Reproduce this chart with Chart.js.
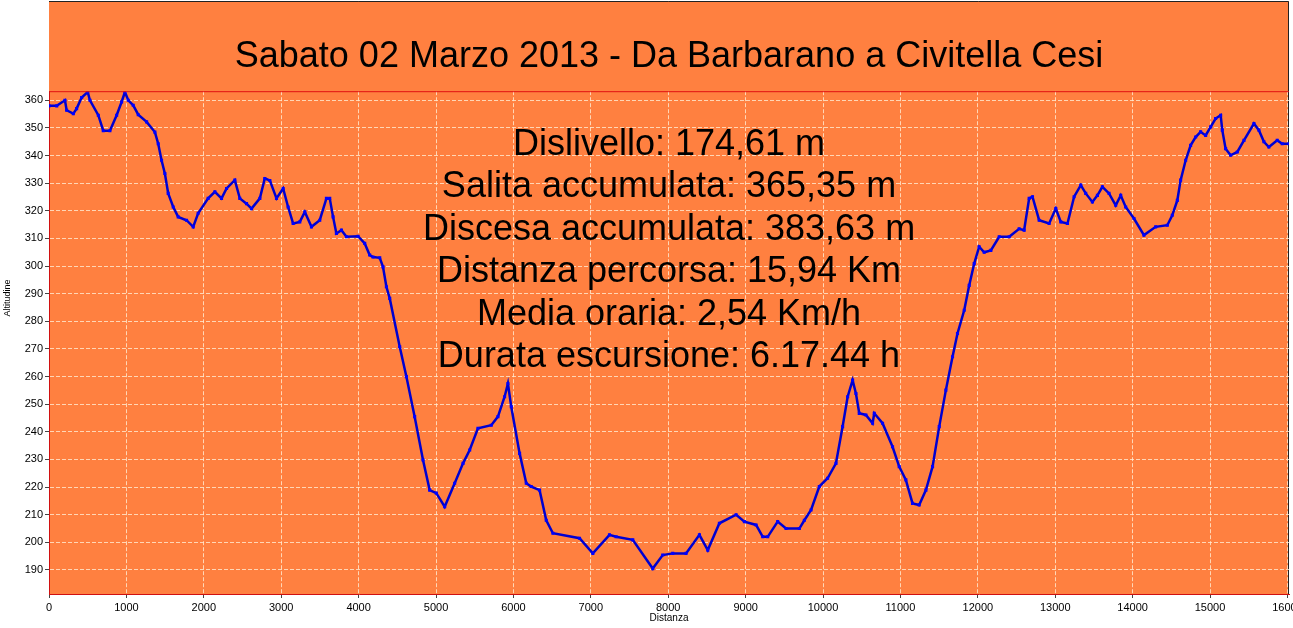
<!DOCTYPE html>
<html>
<head>
<meta charset="utf-8">
<title>Sabato 02 Marzo 2013 - Da Barbarano a Civitella Cesi</title>
<script src="https://cdn.jsdelivr.net/npm/chart.js@4.4.1/dist/chart.umd.min.js"></script>
<style>
  html, body { margin: 0; padding: 0; background: #fff; overflow: hidden; }
  canvas { display: block; }
</style>
</head>
<body>
<canvas id="chart" width="1293" height="628"></canvas>
<script>
const distanze = [0, 100, 206, 228, 314, 357, 422, 500, 529, 637, 701, 787, 874, 938, 981, 1024, 1088, 1153, 1261, 1368,
  1411, 1454, 1497, 1540, 1605, 1669, 1777, 1863, 1927, 2056, 2143, 2229, 2294, 2401, 2465, 2552, 2617, 2724, 2788, 2853,
  2939, 3025, 3089, 3154, 3240, 3305, 3391, 3498, 3584, 3627, 3670, 3713, 3778, 3843, 3993, 4079, 4143, 4186, 4273, 4315,
  4359, 4402, 4531, 4617, 4724, 4832, 4918, 5004, 5112, 5241, 5349, 5435, 5542, 5714, 5800, 5886, 5929, 5972, 6080, 6166,
  6230, 6338, 6424, 6510, 6854, 7026, 7241, 7327, 7542, 7800, 7929, 8058, 8230, 8403, 8511, 8661, 8877, 8984, 9135, 9221,
  9285, 9414, 9522, 9694, 9759, 9845, 9952, 10059, 10167, 10253, 10318, 10382, 10425, 10468, 10554, 10640, 10662, 10769, 10898, 10984,
  11070, 11156, 11242, 11329, 11415, 11501, 11587, 11673, 11737, 11824, 11888, 11953, 12017, 12082, 12168, 12276, 12405, 12534, 12598, 12663,
  12706, 12792, 12921, 13007, 13072, 13158, 13244, 13330, 13394, 13480, 13545, 13609, 13695, 13781, 13846, 13910, 14017, 14146, 14297, 14448,
  14512, 14577, 14620, 14685, 14749, 14814, 14878, 14943, 15008, 15072, 15137, 15158, 15201, 15266, 15352, 15438, 15567, 15631, 15696, 15760,
  15868, 15932, 16020];
const altitudini = [358, 358, 360, 356.4, 355.2, 357, 361, 363, 360, 354.6, 349, 349, 354.6, 359.4, 363, 360, 358.2, 354.8, 352.2, 348.5,
  344.3, 338.3, 333.5, 326.3, 321.4, 317.8, 316.6, 314.2, 319.1, 324.5, 326.9, 324.5, 328.1, 331.1, 324.5, 322.6, 320.8, 324.5, 331.7, 331,
  324.5, 328.1, 321.4, 315.4, 316, 319.6, 314.2, 316.6, 324.5, 324.5, 317.8, 311.8, 313, 310.6, 310.8, 308.2, 304, 303.3, 303, 299.7,
  292.5, 288.3, 270.8, 260, 245.5, 229.8, 218.9, 217.8, 212.9, 221.4, 228.6, 233.4, 241.3, 242.4, 245.5, 252.7, 257.5, 249.1, 232.2, 221.4,
  220.2, 218.9, 208, 203.3, 201.5, 196, 202.7, 202, 200.9, 190.5, 195.4, 196, 196, 202.7, 197.2, 206.9, 210, 207.5, 206.3, 202,
  202, 207.5, 205, 205, 208, 211.7, 220.2, 223.2, 228.6, 241.9, 252.7, 258.7, 253.9, 246.7, 246.1, 243.1, 246.7, 243.1, 234.6, 227.4,
  222.6, 214.1, 213.5, 218.9, 227.4, 241.9, 255.1, 267.2, 275.6, 284, 293, 300.9, 307, 305, 305.7, 310.6, 310.6, 313.5, 313, 324.5,
  325.1, 316.6, 315.4, 320.8, 316, 315.4, 325.1, 329.3, 326.3, 323.2, 325.6, 328.7, 326.3, 322, 325.6, 321.4, 317.2, 311.2, 314.2, 314.8,
  318.4, 323.8, 331.1, 338.3, 343.7, 346.7, 348.6, 347.3, 350.4, 353.4, 354.6, 349.2, 342.5, 340.1, 341.3, 345.5, 351.6, 349.2, 345, 343.1,
  345.5, 344.3, 344.3];

// etichette degli assi
const tickDistanza = [0, 1000, 2000, 3000, 4000, 5000, 6000, 7000, 8000, 9000, 10000, 11000, 12000, 13000, 14000, 15000, 16000];
const tickAltitudine = [190, 200, 210, 220, 230, 240, 250, 260, 270, 280, 290, 300, 310, 320, 330, 340, 350, 360];

const titolo = 'Sabato 02 Marzo 2013 - Da Barbarano a Civitella Cesi';
const statistiche = [
  'Dislivello: 174,61 m',
  'Salita accumulata: 365,35 m',
  'Discesa accumulata: 383,63 m',
  'Distanza percorsa: 15,94 Km',
  'Media oraria: 2,54 Km/h',
  'Durata escursione: 6.17.44 h'
];

const ARANCIO = '#ff8040';
const FONT = "'Liberation Sans', Arial, sans-serif";

// sfondo arancio (anche dietro al titolo) e bordi
const sfondo = {
  id: 'sfondo',
  beforeDraw(chart) {
    const {ctx, chartArea: {left, right, bottom}} = chart;
    ctx.save();
    ctx.fillStyle = ARANCIO;
    ctx.fillRect(left, 1, right - left, bottom - 1);
    ctx.strokeStyle = '#222';
    ctx.lineWidth = 1;
    ctx.beginPath();
    ctx.moveTo(left, 1.5); ctx.lineTo(right - 0.5, 1.5); ctx.lineTo(right - 0.5, bottom);
    ctx.stroke();
    ctx.restore();
  },
  afterDraw(chart) {
    const {ctx, chartArea: {left, right, top}} = chart;
    ctx.save();
    // linea rossa sopra l'area del grafico
    ctx.strokeStyle = '#e01010';
    ctx.lineWidth = 1;
    ctx.beginPath();
    ctx.moveTo(left, top + 0.5); ctx.lineTo(right, top + 0.5);
    ctx.stroke();
    // testo riepilogo
    ctx.fillStyle = '#000';
    ctx.font = '36px ' + FONT;
    ctx.textAlign = 'center';
    ctx.textBaseline = 'middle';
    const cx = (left + right) / 2;
    statistiche.forEach((riga, i) => ctx.fillText(riga, cx, 145 + i * 42.5));
    // titolo asse y
    ctx.font = '9px ' + FONT;
    ctx.translate(8, 298);
    ctx.rotate(-Math.PI / 2);
    ctx.fillText('Altitudine', 0, 0);
    ctx.restore();
  }
};

new Chart(document.getElementById('chart'), {
  type: 'line',
  data: {
    datasets: [{
      label: 'Altitudine',
      data: distanze.map((d, i) => ({x: d, y: altitudini[i]})),
      borderColor: '#0000d0',
      borderWidth: 2.5,
      pointStyle: 'rect',
      pointRadius: 2.2,
      pointBackgroundColor: '#0000ff',
      pointBorderWidth: 0,
      tension: 0
    }]
  },
  options: {
    responsive: false,
    animation: false,
    layout: {padding: {top: 0, right: 3, bottom: 0, left: 0}},
    plugins: {
      legend: {display: false},
      tooltip: {enabled: false},
      title: {
        display: true,
        text: titolo,
        fullSize: false,
        color: '#000',
        font: {family: FONT, size: 36, weight: 'normal'},
        padding: {top: 35, bottom: 13}
      }
    },
    scales: {
      x: {
        type: 'linear',
        min: 0,
        max: 16020,
        title: {display: true, text: 'Distanza', color: '#000', font: {family: FONT, size: 10}, padding: {top: 0, bottom: 4}},
        ticks: {color: '#000', font: {family: FONT, size: 11}, padding: 3, maxRotation: 0, autoSkip: false,
                callback: v => String(v)},
        afterBuildTicks(scale) { scale.ticks = tickDistanza.map(v => ({value: v})); },
        grid: {color: 'rgba(255,235,210,0.8)', tickColor: '#444', tickLength: 4, lineWidth: 1},
        border: {color: '#d01010', dash: [4, 2]},
        afterFit(scale) { scale.height = 34; scale.paddingLeft = 0; scale.paddingRight = 0; }
      },
      y: {
        min: 181.3,
        max: 363.3,
        ticks: {color: '#000', font: {family: FONT, size: 11}, padding: 2, autoSkip: false,
                callback: v => String(v)},
        afterBuildTicks(scale) { scale.ticks = tickAltitudine.map(v => ({value: v})); },
        grid: {color: 'rgba(255,235,210,0.8)', tickColor: '#444', tickLength: 4, lineWidth: 1},
        border: {color: '#d01010', dash: [4, 2]},
        afterFit(scale) { scale.width = 49; scale.paddingTop = 0; scale.paddingBottom = 0; }
      }
    }
  },
  plugins: [sfondo]
});
</script>
</body>
</html>
